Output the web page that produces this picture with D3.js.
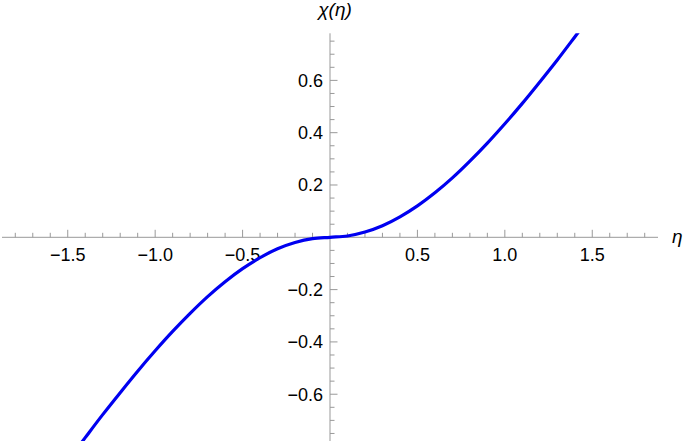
<!DOCTYPE html>
<html>
<head>
<meta charset="utf-8">
<script src="https://cdn.jsdelivr.net/npm/d3@7"></script>
<style>
  body { margin: 0; background: #fff; }
  svg { display: block; font-family: "Liberation Sans", Arial, sans-serif; }
  .tick-label { font-size: 18px; fill: #000; }
  .axis-title { font-size: 19px; font-style: italic; fill: #000; }
</style>
</head>
<body>
<svg id="plot" width="685" height="441"></svg>
<script>
// eta samples and chi(eta) (curve is odd, so mirrored)
const etaPos = [0, 0.1, 0.2, 0.3, 0.4, 0.5, 0.6, 0.7, 0.8, 0.9, 1.0, 1.1, 1.2, 1.3, 1.4, 1.5];
const chiPos = [0, 0.005, 0.020, 0.044, 0.078, 0.120, 0.170, 0.227, 0.291, 0.360, 0.434, 0.512, 0.594, 0.678, 0.766, 0.855];

const xTickValues = [-1.5, -1.0, -0.5, 0.5, 1.0, 1.5];
const yTickValues = [-0.6, -0.4, -0.2, 0.2, 0.4, 0.6];
const xDomain = [-1.876, 1.876];
const yDomain = [-0.78, 0.78];

const points = etaPos.slice(1).reverse().map((e, i) => ({ eta: -e, chi: -chiPos[etaPos.length - 1 - i] }))
  .concat(etaPos.map((e, i) => ({ eta: e, chi: chiPos[i] })));

var svg = d3.select("#plot");

const x = d3.scaleLinear().domain(xDomain).range([2, 658]);
const y = d3.scaleLinear().domain(yDomain).range([441.3, 33.3]);

const axisColor = "#999";
const fmt = (v) => d3.format(".1f")(v).replace("-", "\u2212");

// minor/major ticks
const xMinor = d3.range(-18, 19).map((i) => i / 10).filter((v) => Math.abs(v) > 1e-9);
const yMinor = d3.range(-15, 16).map((i) => i / 20).filter((v) => Math.abs(v) > 1e-9);
const isMajor = (v, step) => Math.abs(v / step - Math.round(v / step)) < 1e-6;

const axes = svg.append("g").attr("stroke", axisColor).attr("stroke-width", 1);

// x axis line + ticks pointing up
axes.append("line")
  .attr("x1", x(xDomain[0])).attr("x2", x(xDomain[1]))
  .attr("y1", y(0)).attr("y2", y(0));
axes.selectAll(".xtick").data(xMinor).enter().append("line")
  .attr("class", "xtick")
  .attr("x1", (d) => x(d)).attr("x2", (d) => x(d))
  .attr("y1", y(0))
  .attr("y2", (d) => y(0) - (isMajor(d, 0.5) ? 7.5 : 4.5));

// y axis line + ticks pointing right
axes.append("line")
  .attr("x1", x(0)).attr("x2", x(0))
  .attr("y1", y(yDomain[0])).attr("y2", y(yDomain[1]));
axes.selectAll(".ytick").data(yMinor).enter().append("line")
  .attr("class", "ytick")
  .attr("y1", (d) => y(d)).attr("y2", (d) => y(d))
  .attr("x1", x(0))
  .attr("x2", (d) => x(0) + (isMajor(d, 0.2) ? 7.5 : 4.5));

// tick labels
svg.selectAll(".xlabel").data(xTickValues).enter().append("text")
  .attr("class", "tick-label")
  .attr("x", (d) => x(d))
  .attr("y", y(0) + 24)
  .attr("text-anchor", "middle")
  .text(fmt);

svg.selectAll(".ylabel").data(yTickValues).enter().append("text")
  .attr("class", "tick-label")
  .attr("x", x(0) - 7)
  .attr("y", (d) => y(d) + 6.5)
  .attr("text-anchor", "end")
  .text(fmt);

// axis titles
svg.append("text")
  .attr("class", "axis-title")
  .attr("x", x(0) + 5)
  .attr("y", 16)
  .attr("text-anchor", "middle")
  .text("\u03C7(\u03B7)");

svg.append("text")
  .attr("class", "axis-title")
  .attr("x", 672)
  .attr("y", 243)
  .text("\u03B7");

// curve, clipped to the plot range
svg.append("clipPath").attr("id", "clip")
  .append("rect")
  .attr("x", x(xDomain[0])).attr("y", y(yDomain[1]))
  .attr("width", x(xDomain[1]) - x(xDomain[0]))
  .attr("height", y(yDomain[0]) - y(yDomain[1]));

const line = d3.line()
  .x((d) => x(d.eta))
  .y((d) => y(d.chi))
  .curve(d3.curveCatmullRom);

svg.append("path")
  .datum(points)
  .attr("clip-path", "url(#clip)")
  .attr("fill", "none")
  .attr("stroke", "#0000f0")
  .attr("stroke-width", 3.2)
  .attr("d", line);
</script>
</body>
</html>
